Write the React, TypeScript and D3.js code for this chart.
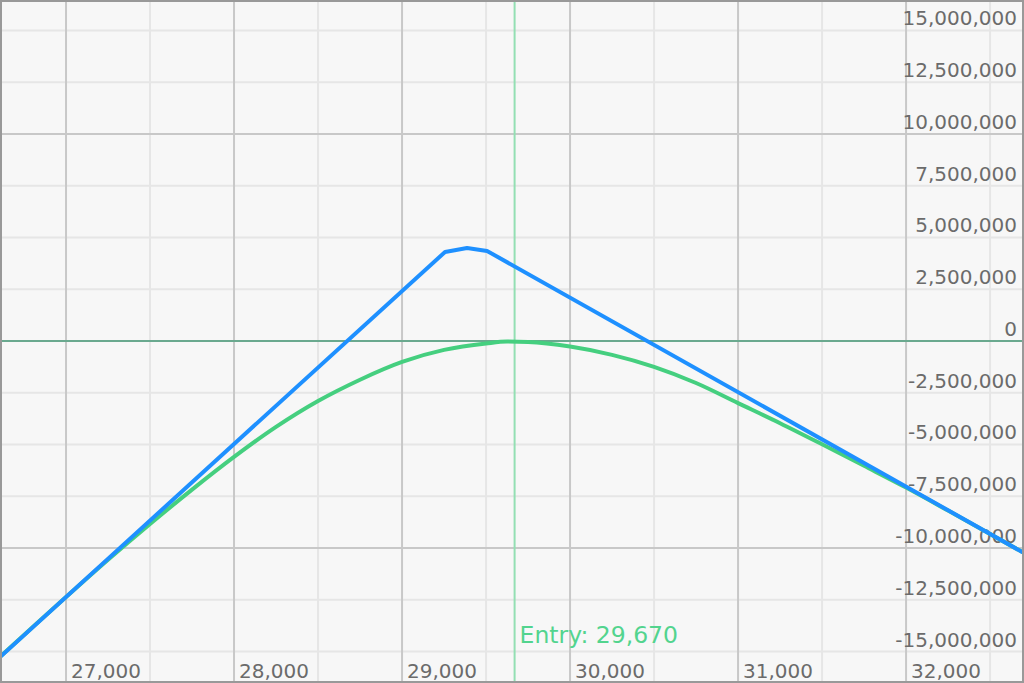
import React, { useEffect } from "react";
import * as d3 from "d3";

const WIDTH = 1024;
const HEIGHT = 683;

// Price domain and P&L domain
const xDomain: [number, number] = [26607, 32702];
const yDomain: [number, number] = [-16.52e6, 16.47e6];

const entryPrice = 29670;
const entryLabel = "Entry: 29,670";

// Expiry payoff (blue)
const expiryPrices = [26607, 29256, 29387, 29506, 32702];
const expiryValues = [-15.27e6, 4.3e6, 4.49e6, 4.35e6, -10.24e6];

// Current P&L (green)
const currentPrices = [
  26607, 26750, 27000, 27250, 27500, 27750, 28000, 28250, 28500, 28750, 29000, 29250, 29500, 29625,
  29750, 30000, 30250, 30500, 30750, 31000, 31250, 31500, 31750, 32000, 32250, 32500, 32702,
];
const currentValues = [
  -15.25e6, -14.2e6, -12.37e6, -10.57e6, -8.84e6, -7.18e6, -5.6e6, -4.15e6, -2.9e6, -1.87e6, -1.01e6,
  -0.43e6, -0.12e6, -0.03e6, -0.05e6, -0.27e6, -0.67e6, -1.25e6, -2.03e6, -3.0e6, -3.97e6, -4.99e6,
  -6.03e6, -7.08e6, -8.19e6, -9.32e6, -10.24e6,
];

const xTicksMajor = [27000, 28000, 29000, 30000, 31000, 32000];
const xTicksMinor = [26500, 27500, 28500, 29500, 30500, 31500, 32500];
const yTicks = [
  -15e6, -12.5e6, -10e6, -7.5e6, -5e6, -2.5e6, 0, 2.5e6, 5e6, 7.5e6, 10e6, 12.5e6, 15e6,
];
const yTicksMajor = [-10e6, 10e6];

const fmt = (v: number) => d3.format(",")(v).replace("\u2212", "-");

export default function App() {
  useEffect(() => {
    document.body.style.margin = "0";
  }, []);

  const x = d3.scaleLinear().domain(xDomain).range([0, WIDTH]);
  const y = d3.scaleLinear().domain(yDomain).range([HEIGHT, 0]);

  const expiryData = expiryPrices.map((p, i) => [p, expiryValues[i]] as [number, number]);
  const currentData = currentPrices.map((p, i) => [p, currentValues[i]] as [number, number]);

  const lineLinear = d3
    .line<[number, number]>()
    .x((d) => x(d[0]))
    .y((d) => y(d[1]));
  const lineSmooth = d3
    .line<[number, number]>()
    .x((d) => x(d[0]))
    .y((d) => y(d[1]))
    .curve(d3.curveMonotoneX);

  const font = "'DejaVu Sans', Verdana, sans-serif";

  return (
    <svg
      width={WIDTH}
      height={HEIGHT}
      style={{ position: "absolute", left: 0, top: 0, display: "block" }}
    >
      <rect x={0} y={0} width={WIDTH} height={HEIGHT} fill="#f7f7f7" />
      {/* minor grid */}
      {xTicksMinor.map((t) => (
        <line key={"xm" + t} x1={x(t)} x2={x(t)} y1={0} y2={HEIGHT} stroke="#e6e6e6" strokeWidth={2} />
      ))}
      {yTicks
        .filter((t) => t !== 0 && !yTicksMajor.includes(t))
        .map((t) => (
          <line key={"ym" + t} x1={0} x2={WIDTH} y1={y(t)} y2={y(t)} stroke="#e6e6e6" strokeWidth={2} />
        ))}
      {/* major grid */}
      {xTicksMajor.map((t) => (
        <line key={"xM" + t} x1={x(t)} x2={x(t)} y1={0} y2={HEIGHT} stroke="#c8c8c8" strokeWidth={2} />
      ))}
      {yTicksMajor.map((t) => (
        <line key={"yM" + t} x1={0} x2={WIDTH} y1={y(t)} y2={y(t)} stroke="#c8c8c8" strokeWidth={2} />
      ))}
      {/* zero line */}
      <line x1={0} x2={WIDTH} y1={y(0)} y2={y(0)} stroke="#6aa98f" strokeWidth={2} />
      {/* entry line */}
      <line
        x1={x(entryPrice)}
        x2={x(entryPrice)}
        y1={0}
        y2={HEIGHT}
        stroke="#93dfb3"
        strokeWidth={2}
      />
      {/* y labels */}
      {yTicks.map((t) => (
        <text
          key={"yl" + t}
          x={WIDTH - 7}
          y={y(t) - 5}
          textAnchor="end"
          fontFamily={font}
          fontSize={20}
          fill="#6b6b6b"
        >
          {fmt(t)}
        </text>
      ))}
      {/* x labels */}
      {xTicksMajor.map((t) => (
        <text
          key={"xl" + t}
          x={x(t) + 5}
          y={HEIGHT - 5}
          fontFamily={font}
          fontSize={20}
          fill="#6b6b6b"
        >
          {fmt(t)}
        </text>
      ))}
      {/* series */}
      <path d={lineSmooth(currentData) || ""} fill="none" stroke="#45cf7f" strokeWidth={4} />
      <path d={lineLinear(expiryData) || ""} fill="none" stroke="#1e90ff" strokeWidth={4} strokeLinejoin="round" />
      {/* entry label */}
      <text
        x={x(entryPrice) + 5}
        y={643}
        fontFamily={font}
        fontSize={23.5}
        fill="#52d48e"
      >
        {entryLabel}
      </text>
      {/* border */}
      <rect x={1} y={1} width={WIDTH - 2} height={HEIGHT - 2} fill="none" stroke="#999" strokeWidth={2} />
    </svg>
  );
}
